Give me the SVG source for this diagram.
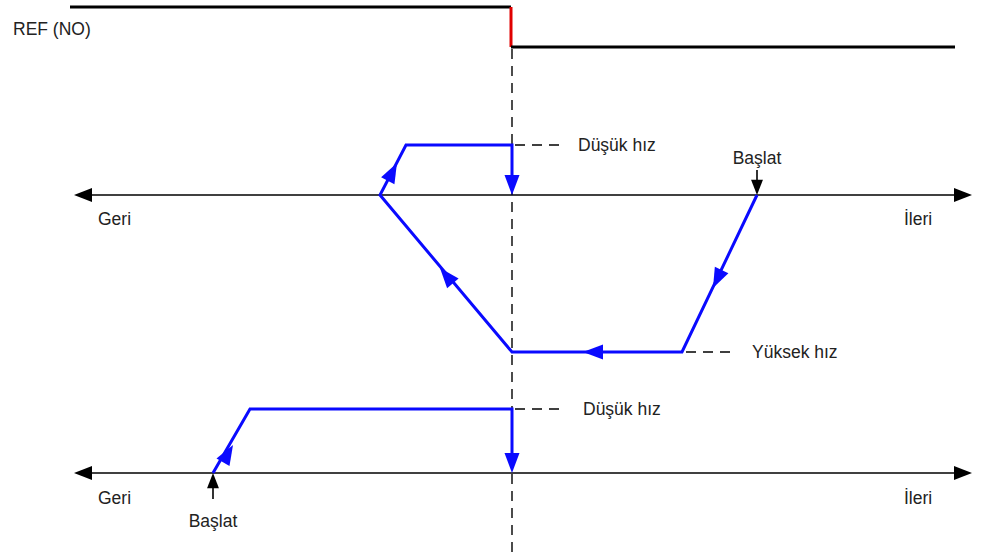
<svg xmlns="http://www.w3.org/2000/svg" xmlns:xlink="http://www.w3.org/1999/xlink" width="986" height="558" viewBox="0 0 986 558">
<style>
text{font-family:"Liberation Sans",Arial,sans-serif;font-size:17.5px;fill:#222}
.axis{stroke:#000;stroke-width:1.6;fill:none}
.blue{stroke:#0a0aff;stroke-width:3;fill:none;stroke-linejoin:miter}
.dash{stroke:#000;stroke-width:1.4;stroke-dasharray:10,7;fill:none}
.bh{fill:#0a0aff}
.kh{fill:#000}
</style>
<defs>
<path id="ab" d="M0,0 L-20,-7.5 L-20,7.5 Z"/>
<path id="ak" d="M0,0 L-18,-7 L-18,7 Z"/>
</defs>
<g id="ref">
<path d="M70,7 H511" stroke="#000" stroke-width="3" fill="none"/>
<path d="M511,7 V47" stroke="#e00000" stroke-width="3" fill="none"/>
<path d="M511,47 H955" stroke="#000" stroke-width="3" fill="none"/>
<text x="13" y="35">REF (NO)</text>
</g>
<g id="connectors">
<path class="dash" d="M512,49 V558"/>
<path class="axis" d="M80,195 H960"/>
<use href="#ak" class="kh" transform="translate(972,195)"/>
<use href="#ak" class="kh" transform="translate(74,195) rotate(180)"/>
<path class="axis" d="M80,473 H960"/>
<use href="#ak" class="kh" transform="translate(972,473)"/>
<use href="#ak" class="kh" transform="translate(74,473) rotate(180)"/>
<path class="blue" d="M757,195 L682,352 H512 L380,195 L406,145 H512 V180"/>
<use href="#ab" class="bh" transform="translate(512,195) rotate(90)"/>
<use href="#ab" class="bh" transform="translate(713,288) rotate(115.5)"/>
<use href="#ab" class="bh" transform="translate(583,352) rotate(180)"/>
<use href="#ab" class="bh" transform="translate(440,268) rotate(-130)"/>
<use href="#ab" class="bh" transform="translate(397,163) rotate(-62.5)"/>
<path class="blue" d="M213,473 L250,409 H512 V458"/>
<use href="#ab" class="bh" transform="translate(512,473) rotate(90)"/>
<use href="#ab" class="bh" transform="translate(233,445) rotate(-60)"/>
<path class="dash" d="M515,145 H560"/>
<path class="dash" d="M686,352 H736"/>
<path class="dash" d="M515,409 H562"/>
<path class="axis" d="M757,170 V183"/>
<use href="#ak" class="kh" transform="translate(757,195) rotate(90) scale(0.85)"/>
<path class="axis" d="M213,499 V486"/>
<use href="#ak" class="kh" transform="translate(213,473) rotate(-90) scale(0.85)"/>
</g>
<g id="labels">
<text x="578" y="151">Düşük hız</text>
<text x="752" y="358">Yüksek hız</text>
<text x="583" y="415">Düşük hız</text>
<text x="757" y="164" text-anchor="middle">Başlat</text>
<text x="213" y="527" text-anchor="middle">Başlat</text>
<text x="98" y="225">Geri</text>
<text x="904" y="225">İleri</text>
<text x="98" y="504">Geri</text>
<text x="904" y="504">İleri</text>
</g>
</svg>
